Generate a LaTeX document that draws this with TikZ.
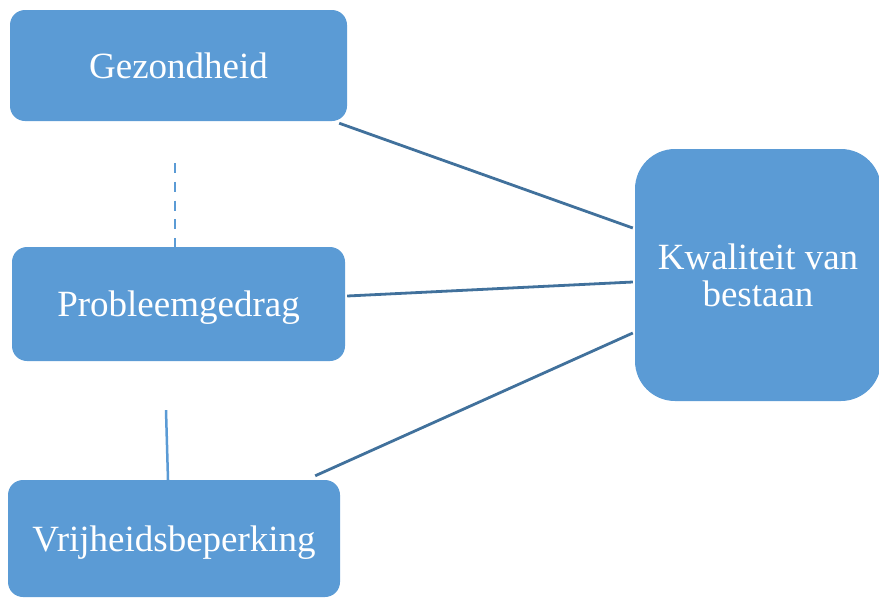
\documentclass[tikz,border=0pt]{standalone}
\usepackage{fontspec}
\setmainfont{Liberation Serif}
\usetikzlibrary{calc}
\definecolor{boxblue}{HTML}{5B9BD5}
\definecolor{linkblue}{HTML}{41719C}
\tikzset{block/.style={rectangle,rounded corners=15pt,fill=boxblue,text=white,
                       inner sep=0pt,align=center,font=\fontsize{37}{37}\selectfont}}
\tikzset{link/.style={draw=linkblue,line width=2.8pt}}
\tikzset{tie/.style={draw=boxblue,line width=2.5pt}}

\begin{document}
\begin{tikzpicture}[x=1pt,y=-1pt]
 \useasboundingbox (0,0) rectangle (879,598);
 \node (GZ) [block,minimum width=337pt,minimum height=111pt,text depth=0pt] at (178.5,65.5) {Gezondheid};
 \node (PR) [block,minimum width=333pt,minimum height=114pt,text depth=0pt] at (178.5,304) {Probleemgedrag};
 \node (VB) [block,minimum width=332pt,minimum height=117pt,text depth=0pt] at (174,538.5) {Vrijheidsbeperking};
 \node (KW) [block,rounded corners=40pt,minimum width=246pt,minimum height=252pt] at (758,275)
            {Kwaliteit van\\bestaan};
 \draw [link] ($(GZ.south east)+(-8,2)$) -- ($(KW.west)+(-2,-47)$);
 \draw [link] ($(PR.east)+(2,-8)$) -- ($(KW.west)+(-2,7)$);
 \draw [link] ($(VB.north east)+(-25,-4)$) -- ($(KW.west)+(-2,58)$);
 \draw [tie,dash pattern=on 10pt off 8.7pt] ($(GZ.south)+(-3.5,42)$) -- ($(PR.north)+(-3.5,0)$);
 \draw [tie] ($(PR.south)+(-12.5,49)$) -- ($(VB.north)+(-6,0)$);
\end{tikzpicture}
\end{document}
